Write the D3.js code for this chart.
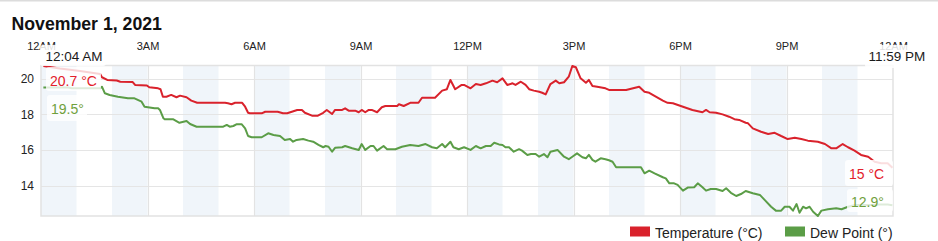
<!DOCTYPE html>
<html><head><meta charset="utf-8">
<script src="https://cdn.jsdelivr.net/npm/d3@7"></script>
<style>body{margin:0;background:#fff;font-family:Arial,"Liberation Sans",sans-serif}svg{display:block}</style>
</head><body><svg id="c" width="938" height="241"></svg>
<script>
const title = "November 1, 2021";
const tempMinutes = [4,32,66,100,103,112,128,134,155,159,179,183,198,202,206,212,220,229,235,246,254,264,311,316,322,328,340,345,350,353,373,379,400,409,416,424,433,441,446,458,468,477,483,492,497,509,514,520,531,537,542,548,554,559,568,576,582,602,605,613,624,638,644,666,678,686,692,700,711,715,726,735,743,752,763,771,780,788,797,802,811,819,825,833,842,847,853,861,870,876,884,892,898,904,912,921,926,932,940,954,960,989,1011,1020,1028,1051,1059,1068,1085,1101,1118,1124,1130,1141,1152,1163,1172,1180,1191,1195,1203,1217,1229,1240,1251,1262,1274,1285,1296,1313,1325,1336,1344,1355,1364,1375,1386,1398,1409,1420,1431,1439];
const tempValues = [20.7,20.56,20.42,20.25,20.07,19.92,19.89,19.82,19.8,19.64,19.61,19.51,19.45,19.4,18.98,18.98,19.08,18.95,19.04,18.95,18.76,18.64,18.64,18.61,18.56,18.64,18.64,18.42,18.08,18.05,18.05,18.14,18.14,18.05,18.05,18.14,18.24,18.24,18.08,17.92,17.92,18.08,18.24,18.01,18.24,18.24,18.33,18.2,18.2,18.11,18.24,18.11,18.24,18.24,18.11,18.39,18.46,18.46,18.56,18.46,18.64,18.64,18.92,18.92,19.32,19.4,19.92,19.4,19.64,19.64,19.45,19.69,19.64,19.73,19.88,19.79,20.01,19.64,19.73,19.64,19.82,19.64,19.4,19.32,19.26,19.2,19.11,19.69,19.88,19.73,19.79,20.1,20.7,20.63,20.01,19.76,19.92,19.58,19.54,19.45,19.36,19.36,19.54,19.26,19.2,18.76,18.64,18.61,18.42,18.24,18.11,18.24,18.11,18.08,17.99,17.86,17.72,17.68,17.52,17.49,17.21,17.02,16.89,16.96,16.78,16.61,16.68,16.61,16.52,16.46,16.33,16.09,16.09,16.33,16.15,15.96,15.72,15.62,15.34,15.25,15.25,15.0];
const dewMinutes = [4,30,46,52,100,103,108,116,130,147,158,170,175,192,198,201,207,209,223,234,246,252,263,308,314,319,325,331,339,345,350,356,373,384,393,404,412,421,426,432,443,452,460,469,477,481,486,492,497,509,514,526,537,542,548,557,562,568,579,585,599,610,624,638,650,661,669,678,683,692,697,706,715,726,735,743,752,760,766,774,780,785,791,799,808,813,822,828,836,842,850,856,861,873,884,892,898,906,915,921,926,932,937,946,954,960,966,972,1014,1020,1028,1037,1051,1056,1062,1070,1076,1085,1093,1104,1110,1118,1124,1132,1141,1152,1158,1166,1175,1183,1191,1203,1215,1223,1234,1242,1251,1257,1265,1271,1277,1282,1288,1293,1299,1305,1313,1319,1330,1344,1353,1364,1376,1401,1418,1431,1439];
const dewValues = [19.5,19.5,19.5,19.45,19.45,19.54,19.17,19.08,18.98,18.89,18.89,18.7,18.42,18.33,18.33,18.24,17.77,17.72,17.72,17.52,17.62,17.45,17.3,17.3,17.4,17.3,17.34,17.44,17.44,17.21,16.78,16.71,16.71,16.93,16.84,16.78,16.56,16.61,16.46,16.56,16.61,16.52,16.46,16.28,16.15,16.22,16.18,15.9,16.12,16.15,16.22,16.09,16.0,16.33,16.0,16.22,16.22,15.96,16.22,16.04,16.04,16.18,16.28,16.22,16.33,16.15,16.09,16.33,16.15,16.46,16.15,16.04,16.15,16.0,16.22,16.09,16.22,16.22,16.4,16.31,16.28,16.15,16.15,15.9,16.04,15.96,15.72,15.77,15.77,15.62,15.77,15.59,15.9,16.0,15.62,15.48,15.62,15.81,15.59,15.53,15.72,15.44,15.34,15.53,15.48,15.42,15.34,15.03,15.03,14.69,14.84,14.69,14.47,14.41,14.13,14.13,14.04,13.72,13.89,13.91,14.13,13.91,13.72,13.81,13.81,13.7,13.85,13.6,13.42,13.53,13.7,13.57,13.48,13.2,12.82,12.6,12.6,12.82,12.82,12.6,12.97,12.48,12.82,12.73,12.82,12.54,12.3,12.6,12.68,12.73,12.68,12.82,12.92,12.92,12.94,12.94,12.9];
const tickHours = [0,3,6,9,12,15,18,21,24];
const tickLabels = ["12AM","3AM","6AM","9AM","12PM","3PM","6PM","9PM","12AM"];
const bandHours = [0,2,4,6,8,10,12,14,16,18,20,22];
const yTicks = [14,16,18,20];
const seriesNames = ["Temperature (°C)","Dew Point (°)"];
const startLabel = "12:04 AM", endLabel = "11:59 PM";
const tempStartLabel = "20.7 °C", tempEndLabel = "15 °C";
const dewStartLabel = "19.5°", dewEndLabel = "12.9°";

const red = "#d9222c", green = "#5b9d47";
const redText = "#e3202b", greenText = "#6fa03c";
const svg = d3.select("#c");
const L = 41, R = 893, T = 66, B = 216;
const x = d3.scaleLinear().domain([0, 1440]).range([L, R]);
const y = d3.scaleLinear().domain(d3.extent(tempValues.concat(dewValues))).range([B, T]);

svg.append("line").attr("x1",0).attr("x2",938).attr("y1",0.75).attr("y2",0.75).attr("stroke","#dcdcdc").attr("stroke-width",1.5);
svg.append("text").attr("x",11.5).attr("y",29.5).attr("font-size","17.7px").attr("font-weight","bold").attr("fill","#111").text(title);

// bands
svg.append("g").selectAll("rect").data(bandHours).join("rect")
  .attr("x", d => x(d*60)).attr("width", d => x((d+1)*60) - x(d*60))
  .attr("y", T).attr("height", B - T).attr("fill", "#f0f5fa");

// gridlines
svg.append("g").selectAll("line").data(yTicks).join("line")
  .attr("x1", L).attr("x2", R).attr("y1", d => Math.round(y(d))+0.5).attr("y2", d => Math.round(y(d))+0.5)
  .attr("stroke", "#e5e5e5").attr("stroke-width", 1.2);
svg.append("g").selectAll("line").data(tickHours.slice(1,-1)).join("line")
  .attr("x1", d => Math.round(x(d*60))+0.5).attr("x2", d => Math.round(x(d*60))+0.5).attr("y1", T).attr("y2", B)
  .attr("stroke", "#e3e3e3").attr("stroke-width", 1.2);
svg.append("rect").attr("x", L).attr("y", T-0.5).attr("width", R-L).attr("height", B-T+0.5)
  .attr("fill","none").attr("stroke","#e2e2e2").attr("stroke-width",1.5);

// axes text
const xAxis = d3.axisTop(x).tickValues(tickHours.map(h=>h*60)).tickFormat((d,i)=>tickLabels[i]).tickSize(0);
const gx = svg.append("g").attr("transform", `translate(0,${T-13})`).call(xAxis);
gx.select(".domain").remove();
gx.selectAll("text").attr("font-size","11px").attr("font-family","Arial, 'Liberation Sans', sans-serif").attr("fill","#222");
const yAxis = d3.axisLeft(y).tickValues(yTicks).tickSize(0).tickPadding(7);
const gy = svg.append("g").attr("transform", `translate(${L},0)`).call(yAxis);
gy.select(".domain").remove();
gy.selectAll("text").attr("font-size","12px").attr("font-family","Arial, 'Liberation Sans', sans-serif").attr("fill","#222");

// lines
const line = d3.line().x(d => x(d[0])).y(d => y(d[1]));
svg.append("path").datum(dewMinutes.map((m,i)=>[m, dewValues[i]])).attr("d", line)
  .attr("fill","none").attr("stroke",green).attr("stroke-width",2).attr("stroke-linejoin","round");
svg.append("path").datum(tempMinutes.map((m,i)=>[m, tempValues[i]])).attr("d", line)
  .attr("fill","none").attr("stroke",red).attr("stroke-width",2).attr("stroke-linejoin","round");

// label boxes
function box(x0,y0,w,h,op){svg.append("rect").attr("x",x0).attr("y",y0).attr("width",w).attr("height",h).attr("rx",3).attr("fill","#fff").attr("fill-opacity",op);}
box(40,45,66,21,0.85);
box(865,45,66,23,0.85);
box(46,67,55,24,0.8);
box(47,95,40,26,0.8);
box(845,160,48,26,0.85);
box(847,189,46,23,0.8);
function label(t,x0,y0,size,color){svg.append("text").attr("x",x0).attr("y",y0).attr("font-size",size).attr("fill",color).text(t);}
label(startLabel,45.5,61,"13.5px","#1a1a1a");
label(endLabel,868.5,61,"13.5px","#1a1a1a");
label(tempStartLabel,50,86,"14px",redText);
label(dewStartLabel,51,114,"14px",greenText);
label(tempEndLabel,849,179,"14px",redText);
label(dewEndLabel,851,206.5,"14px",greenText);

// legend
const legX = [630, 785];
const lg = svg.append("g").selectAll("g").data(seriesNames).join("g").attr("transform",(d,i)=>`translate(${legX[i]},226.5)`);
lg.append("rect").attr("width",20).attr("height",10).attr("fill",(d,i)=>[red,green][i]);
lg.append("text").attr("x",25).attr("y",11).attr("font-size","14px").attr("fill","#222").text(d=>d);
</script></body></html>
